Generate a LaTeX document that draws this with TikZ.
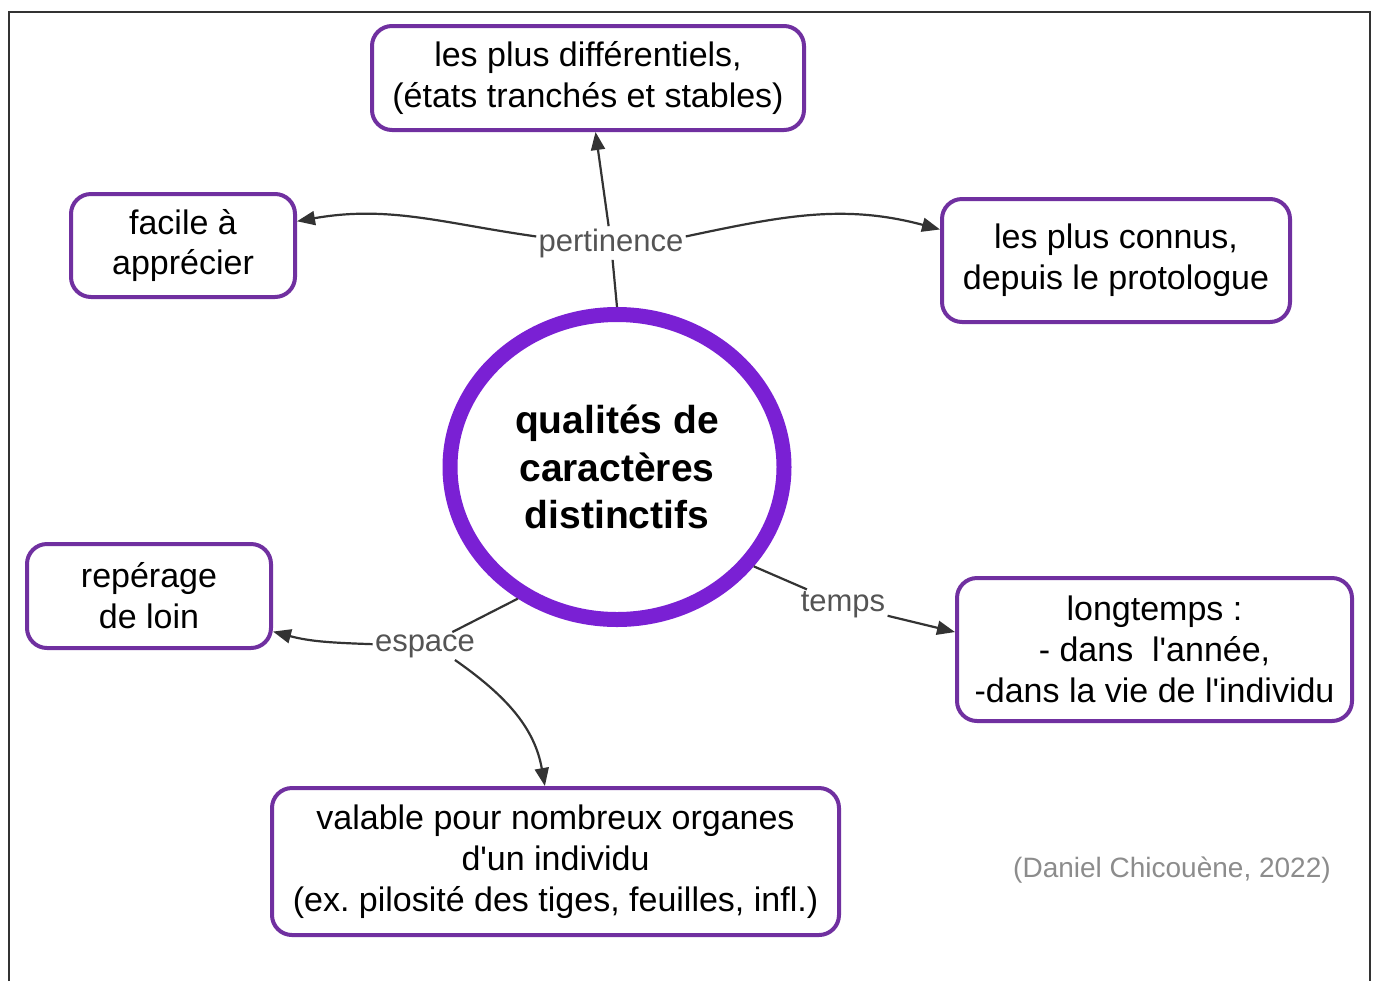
\documentclass[tikz,border=0pt]{standalone}
\usepackage{fontspec}
\setmainfont{Liberation Sans}
\usepackage{tikz}
\usetikzlibrary{shapes.geometric,arrows.meta}
\usepackage{xcolor}
\frenchspacing
\definecolor{boxpurple}{RGB}{112,48,160}
\definecolor{ringpurple}{RGB}{122,32,212}
\definecolor{linkgray}{RGB}{51,51,51}
\tikzstyle{concept}=[rectangle, rounded corners=10pt, draw=boxpurple, line width=2pt, fill=white, align=center, inner sep=0pt, font=\fontsize{17}{20.5}\selectfont]
\tikzstyle{core} = [ellipse, draw=ringpurple, line width=7.5pt, fill=white, align=center, inner sep=0pt, minimum width=167pt, minimum height=152.5pt, font=\fontsize{19.5}{23.75}\selectfont\bfseries]
\tikzstyle{tag} = [text=black!67, inner sep=1pt, font=\fontsize{15.5}{18}\selectfont]
\tikzstyle{edge} = [draw,line width=1.1pt, -, linkgray]
\tikzstyle{arrow} = [edge, -{Triangle[length=9pt,width=7pt]}]
\newcommand{\q}{\textquotesingle}

\begin{document}
\begin{tikzpicture}[x=.5pt, y=.5pt]

	\useasboundingbox (0,0) rectangle (1376,-981);
	\draw[line width=1pt, black!80] (9,-981) -- (9,-12) -- (1370,-12) -- (1370,-981);

	\node[core] (c) at (617,-467) {qualités de\\caractères\\distinctifs};

	\node[concept, minimum width=216pt, minimum height=52pt] (b_1) at (588,-78) {les plus différentiels,\\(états tranchés et stables)};
	\node[concept, minimum width=112pt, minimum height=51.5pt] (b_2) at (183,-245.5) {facile à\\apprécier};
	\node[concept, minimum width=174pt, minimum height=61.5pt] (b_3) at (1116,-260.5) {les plus connus,\\depuis le protologue};
	\node[concept, minimum width=122pt, minimum height=52pt] (b_4) at (149,-596) {repérage\\de loin};
	\node[concept, minimum width=197.5pt, minimum height=71.5pt] (b_5) at (1154.5,-649.5) {longtemps :\\- dans\ \ l\q année,\\-dans la vie de l\q individu};
	\node[concept, minimum width=283.5pt, minimum height=73.5pt] (b_6) at (555.5,-861.5) {valable pour nombreux organes\\d\q un individu\\(ex. pilosité des tiges, feuilles, infl.)};

	\node[tag] (l_1) at (611,-243) {pertinence};
	\node[tag] (l_2) at (425,-646) {espace};
	\node[tag] (l_3) at (843,-605) {temps};

	\foreach \angle/\label in {90/l_1, 233/l_2, -36/l_3}{
		\draw[edge] (c.\angle) -- (\label);
	}

	% pertinence
	\draw[arrow] (l_1) -- (b_1);
	\draw[arrow] (l_1.175) to[out=172, in=10] (b_2.12);
	\draw[arrow] (l_1.5) to[out=12, in=165] (b_3.170);

	% espace
	\draw[arrow] (l_2) to[out=178, in=-15] (b_4.-16);
	\draw[arrow] (l_2.-25) to[out=-35, in=100] (b_6.98);

	% temps
	\draw[arrow] (l_3) -- (b_5.175);

	\node[text=black!45, font=\fontsize{14}{17}\selectfont] (credit) at (1172,-870) {(Daniel Chicouène, 2022)};
\end{tikzpicture}
\end{document}
